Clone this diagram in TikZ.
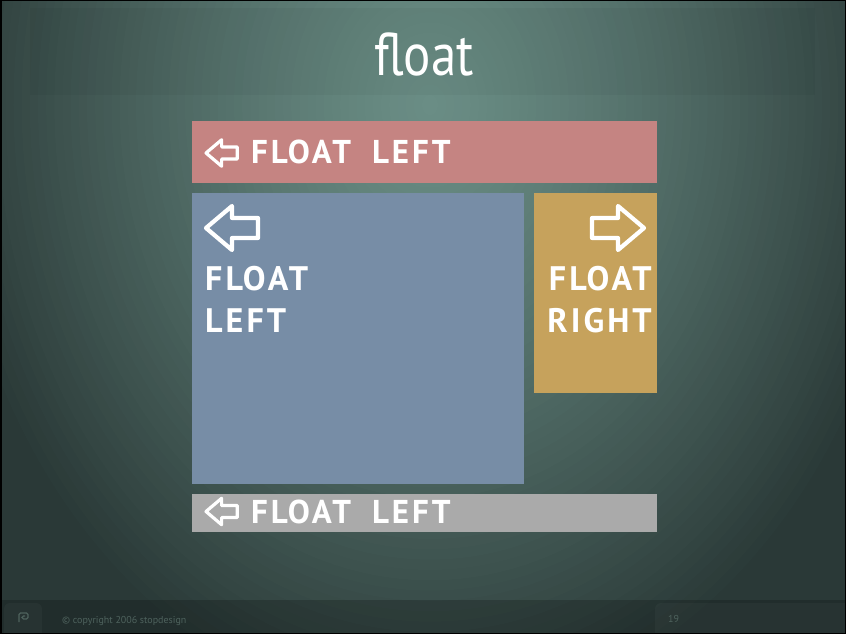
\documentclass[tikz,border=0pt]{standalone}
\usepackage{fontspec}
\setmainfont{PT Sans}
\newfontfamily\lblfont[LetterSpace=9]{PT Sans}
\newfontfamily\titlefont[FakeStretch=0.85]{PT Sans}
\definecolor{gA}{HTML}{6A8D85}
\definecolor{gG}{HTML}{2A3937}
\definecolor{redc}{HTML}{C58482}
\definecolor{bluec}{HTML}{778DA6}
\definecolor{goldc}{HTML}{C6A25C}
\definecolor{grayc}{HTML}{AAAAAA}
\definecolor{footc}{HTML}{4E625D}
\tikzset{
  box/.style={anchor=north west, inner sep=0pt, draw=none},
  lbl/.style={anchor=base west, inner sep=0pt, text=white, font=\lblfont\bfseries\fontsize{33}{40}\selectfont},
  biglbl/.style={inner sep=0pt, text=white, font=\lblfont\bfseries\fontsize{34}{42}\selectfont},
  larrow/.pic={\draw[white, line join=round] (0,0) -- (26,-22) -- (26,-10) -- (52,-10) -- (52,10) -- (26,10) -- (26,22) -- cycle;}
}
\begin{document}
\begin{tikzpicture}[x=1pt,y=-1pt]
\useasboundingbox (0,0) rectangle (846,634);
\begin{scope}
  \clip (0,0) rectangle (846,634);
  \fill[gG] (0,0) rectangle (846,634);
  \foreach \i in {0,...,59} {
    \pgfmathsetmacro\dd{1-\i/60}
    \pgfmathsetmacro\pp{100*(\dd^1.3)}
    \fill[gG!\pp!gA] (430,105) ellipse [x radius=\dd*490pt, y radius=\dd*620pt];
  }
  % title band
  \fill[black, opacity=0.035] (30,8) rectangle (815,95);
  % footer
  \fill[black, opacity=0.2] (0,600) rectangle (846,634);
  \fill[white, opacity=0.03, rounded corners=6pt] (4,603) rectangle (42,640);
  \fill[white, opacity=0.03, rounded corners=6pt] (655,603) rectangle (850,640);
\end{scope}
% title
\node[text=white, inner sep=0pt, anchor=base, font=\titlefont\fontsize{60}{64}\selectfont] (title) at (424,76) {float};
% boxes
\node[box, fill=redc, minimum width=465pt, minimum height=62pt] (red) at (192,121) {};
\node[box, fill=bluec, minimum width=332pt, minimum height=291pt] (blue) at (192,193) {};
\node[box, fill=goldc, minimum width=123pt, minimum height=200pt] (gold) at (534,193) {};
\node[box, fill=grayc, minimum width=465pt, minimum height=38pt] (gray) at (192,494) {};
% arrows
\pic[scale=0.6, line width=3.2pt] at (206,153) {larrow};
\pic[line width=4.2pt] at (206,228) {larrow};
\pic[xscale=-1, line width=4.2pt] at (644,228) {larrow};
\pic[scale=0.6, line width=3.2pt] at (206,511.5) {larrow};
% labels
\node[lbl] (redt) at (251,163) {FLOAT\hspace{21pt}LEFT};
\node[lbl] (grayt) at (251,523) {FLOAT\hspace{21pt}LEFT};
\node[biglbl, anchor=base west] (bluet1) at (205,290) {FLOAT};
\node[biglbl, anchor=base west] (bluet2) at (205,332) {LEFT};
\node[biglbl, anchor=base east] (goldt1) at (652,290) {FLOAT};
\node[biglbl, anchor=base east] (goldt2) at (652,332) {RIGHT};
% footer
\draw[footc, line width=1.2pt, rounded corners=1.5pt] (19,622) -- (19,613) -- (28,613) -- (28,619) -- (22,619) -- (22,616) -- (25,616);
\node[text=footc, anchor=base west, inner sep=0pt, font=\fontsize{10}{11}\selectfont] (copy) at (62,623) {© copyright 2006 stopdesign};
\node[text=footc, anchor=base west, inner sep=0pt, font=\fontsize{10}{11}\selectfont] (page) at (668,622) {19};
% frame
\draw[black, line width=3pt] (0,0) rectangle (846,634);
\end{tikzpicture}
\end{document}
